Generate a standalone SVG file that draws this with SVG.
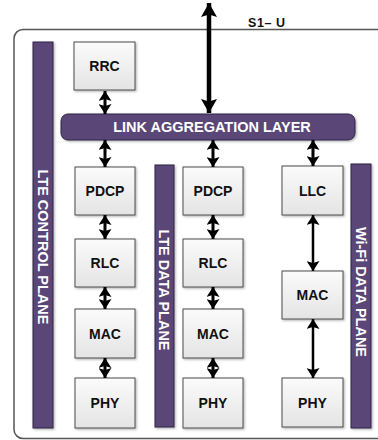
<svg xmlns="http://www.w3.org/2000/svg" width="378" height="440" viewBox="0 0 378 440">
  <style>
    .frame { fill: #ffffff; stroke: #555555; stroke-width: 1.5; }
    .box { fill: url(#boxFill); stroke: #4d4d4d; stroke-width: 1; filter: url(#shadow); }
    .bar { fill: #5a4677; stroke: #2f2440; stroke-width: 1; filter: url(#shadow); }
    .lbl { font-family: "Liberation Sans", Arial, sans-serif; font-weight: bold; font-size: 14px; fill: #111111; text-anchor: middle; }
    .barlbl { font-family: "Liberation Sans", Arial, sans-serif; font-weight: bold; font-size: 14.5px; fill: #ffffff; text-anchor: middle; }
    .link { stroke: #000000; stroke-width: 3; fill: none; marker-start: url(#head); marker-end: url(#head); }
    .link.long { stroke-width: 2.5; }
    .link.trunk { stroke-width: 4.5; marker-start: url(#bigHead); marker-end: url(#bigHead); }
  </style>
  <defs>
    <linearGradient id="boxFill" x1="0" y1="0" x2="0" y2="1">
      <stop offset="0" stop-color="#fbfbfb"/>
      <stop offset="1" stop-color="#e4e4e4"/>
    </linearGradient>
    <filter id="shadow" x="-20%" y="-20%" width="150%" height="150%">
      <feDropShadow dx="1.2" dy="1.2" stdDeviation="0.8" flood-color="#000000" flood-opacity="0.3"/>
    </filter>
    <marker id="head" markerUnits="userSpaceOnUse" viewBox="0 0 10 13" markerWidth="10" markerHeight="13" refX="10" refY="6.5" orient="auto-start-reverse">
      <path d="M0,0 L10,6.5 L0,13 L2,6.5 z" fill="#000000"/>
    </marker>
    <marker id="bigHead" markerUnits="userSpaceOnUse" viewBox="0 0 14 16" markerWidth="14" markerHeight="16" refX="14" refY="8" orient="auto-start-reverse">
      <path d="M0,0 L14,8 L0,16 L2.5,8 z" fill="#000000"/>
    </marker>
  </defs>

  <!-- enclosing frame, open to the right -->
  <rect class="frame" x="14" y="29.5" width="420" height="409" rx="9"/>

  <!-- side plane bars -->
  <g id="lte-control-plane">
    <rect class="bar" x="33" y="42" width="20" height="386"/>
    <text class="barlbl" transform="translate(43,247) rotate(90)" dy="5.2">LTE CONTROL PLANE</text>
  </g>
  <g id="lte-data-plane">
    <rect class="bar" x="155" y="165" width="19" height="262"/>
    <text class="barlbl" transform="translate(164.5,290) rotate(90)" dy="5.2">LTE DATA PLANE</text>
  </g>
  <g id="wifi-data-plane">
    <rect class="bar" x="351" y="164" width="20" height="264"/>
    <text class="barlbl" transform="translate(361,292) rotate(90)" dy="5.2">Wi-Fi DATA PLANE</text>
  </g>

  <!-- link aggregation layer -->
  <g id="link-aggregation">
    <rect class="bar" x="61" y="114" width="294" height="26" rx="7"/>
    <text class="barlbl" x="212" y="132">LINK AGGREGATION LAYER</text>
  </g>

  <!-- LTE control stack -->
  <g id="rrc"><rect class="box" x="74" y="42" width="61" height="48"/><text class="lbl" x="104.5" y="71">RRC</text></g>
  <g id="pdcp-c"><rect class="box" x="75" y="167" width="60" height="48"/><text class="lbl" x="105" y="196">PDCP</text></g>
  <g id="rlc-c"><rect class="box" x="75" y="239" width="60" height="48"/><text class="lbl" x="105" y="268">RLC</text></g>
  <g id="mac-c"><rect class="box" x="75" y="309" width="60" height="49"/><text class="lbl" x="105" y="338.5">MAC</text></g>
  <g id="phy-c"><rect class="box" x="75" y="378" width="60" height="50"/><text class="lbl" x="105" y="408">PHY</text></g>

  <!-- LTE data stack -->
  <g id="pdcp-d"><rect class="box" x="183" y="167" width="60" height="48"/><text class="lbl" x="213" y="196">PDCP</text></g>
  <g id="rlc-d"><rect class="box" x="183" y="239" width="60" height="48"/><text class="lbl" x="213" y="268">RLC</text></g>
  <g id="mac-d"><rect class="box" x="183" y="309" width="60" height="49"/><text class="lbl" x="213" y="338.5">MAC</text></g>
  <g id="phy-d"><rect class="box" x="183" y="378" width="60" height="50"/><text class="lbl" x="213" y="408">PHY</text></g>

  <!-- Wi-Fi data stack -->
  <g id="llc"><rect class="box" x="282" y="166" width="61" height="49"/><text class="lbl" x="312.5" y="195.5">LLC</text></g>
  <g id="mac-w"><rect class="box" x="282" y="271" width="61" height="48"/><text class="lbl" x="312.5" y="300">MAC</text></g>
  <g id="phy-w"><rect class="box" x="282" y="378" width="61" height="49"/><text class="lbl" x="312.5" y="407.5">PHY</text></g>

  <!-- S1-U interface label -->
  <text class="lbl" x="248" y="27" style="text-anchor:start;font-size:12.5px;letter-spacing:0.6px">S1– U</text>

  <!-- connectors -->
  <g id="connectors">
    <line class="link trunk" x1="209" y1="3" x2="209" y2="113"/>
    <line class="link" x1="105" y1="91" x2="105" y2="114"/>
    <line class="link" x1="105" y1="140" x2="105" y2="167"/>
    <line class="link" x1="105" y1="215" x2="105" y2="239"/>
    <line class="link" x1="105" y1="287" x2="105" y2="309"/>
    <line class="link" x1="105" y1="358" x2="105" y2="378"/>
    <line class="link" x1="213" y1="140" x2="213" y2="167"/>
    <line class="link" x1="213" y1="215" x2="213" y2="239"/>
    <line class="link" x1="213" y1="287" x2="213" y2="309"/>
    <line class="link" x1="213" y1="358" x2="213" y2="378"/>
    <line class="link" x1="313" y1="140" x2="313" y2="166"/>
    <line class="link long" x1="313" y1="215" x2="313" y2="271"/>
    <line class="link long" x1="313" y1="319" x2="313" y2="378"/>
  </g>
</svg>
